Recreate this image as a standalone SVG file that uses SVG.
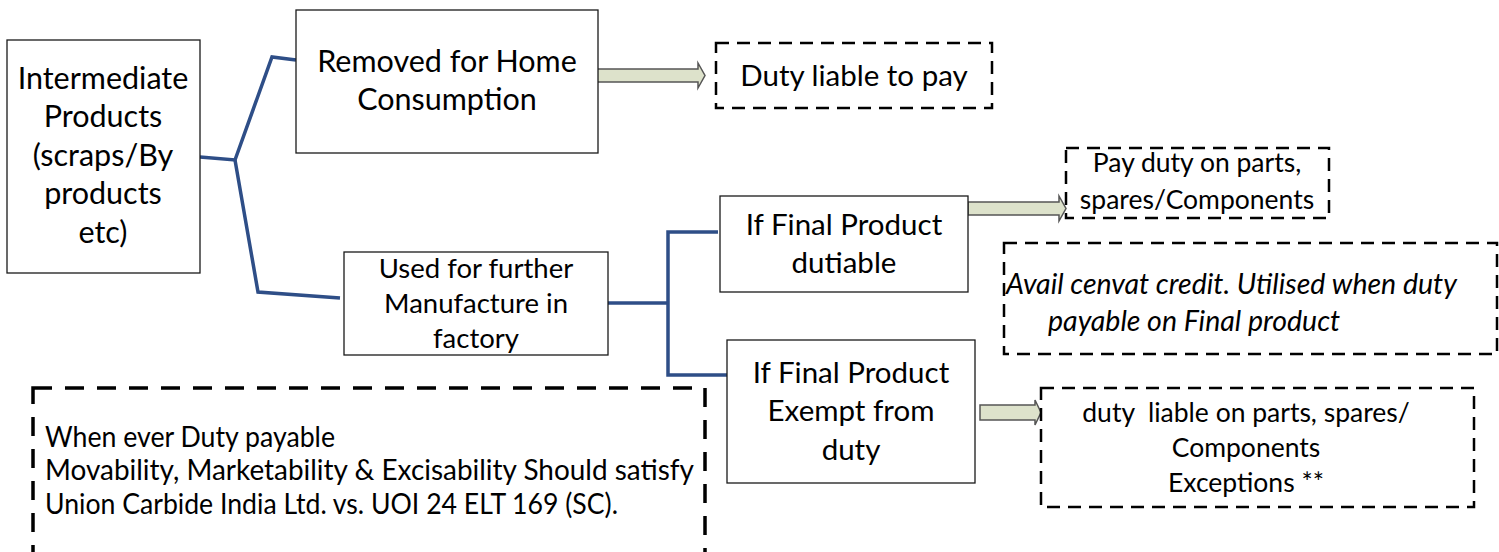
<svg xmlns="http://www.w3.org/2000/svg" width="1499" height="552" viewBox="0 0 1499 552">
<style>
.box{fill:#fff;stroke:#1a1a1a;stroke-width:1.3}
.dbox{fill:none;stroke:#000;stroke-width:2.5;stroke-dasharray:13 8}
.dbig{fill:none;stroke:#000;stroke-width:3.5;stroke-dasharray:19 13}
.conn{fill:none;stroke:#2e4e87;stroke-width:3.5;stroke-linejoin:miter}
.arr{fill:#dde2cb;stroke:#555;stroke-width:1.5}
text{font-family:Lato,"Liberation Sans",sans-serif;fill:#000;text-anchor:middle;white-space:pre}
.t30{font-size:30.5px}
.t29{font-size:29.5px}
.t27{font-size:27.5px}
.t26{font-size:26.5px}
.it{font-style:italic;font-size:28.5px;text-anchor:start}
.bl{font-size:28px;text-anchor:start}
</style>
<rect width="1499" height="552" fill="#fff"/>
<g id="connectors">
<polyline class="conn" points="200,157 235,160 272,57 296,60"/>
<polyline class="conn" points="235,160 258,292 340,298"/>
<polyline class="conn" points="608,303 668,303"/>
<polyline class="conn" points="718,232 668,232 668,375 727,375"/>
<polygon class="arr" points="597,69 698,69 698,63 705,75.5 698,88 698,82 597,82"/>
<polygon class="arr" points="968,202 1059,202 1059,196 1066,208.5 1059,221 1059,215 968,215"/>
<polygon class="arr" points="980,405 1035,405 1035,400 1041,412.5 1035,425 1035,420 980,420"/>
</g>
<g id="n-intermediate">
<rect class="box" x="7" y="40" width="193" height="233"/>
<text class="t30" x="103" y="89">Intermediate</text>
<text class="t30" x="103" y="127">Products</text>
<text class="t30" x="103" y="166">(scraps/By</text>
<text class="t30" x="103" y="204">products</text>
<text class="t30" x="103" y="243">etc)</text>
</g>
<g id="n-removed">
<rect class="box" x="296" y="10" width="302" height="143"/>
<text class="t30" x="447" y="72">Removed for Home</text>
<text class="t30" x="447" y="110">Consumption</text>
</g>
<g id="n-used">
<rect class="box" x="344" y="252" width="264" height="103"/>
<text class="t27" x="476" y="278">Used for further</text>
<text class="t27" x="476" y="313">Manufacture in</text>
<text class="t27" x="476" y="348">factory</text>
</g>
<g id="n-dutiable">
<rect class="box" x="720" y="196" width="248" height="96"/>
<text class="t29" x="844" y="235">If Final Product</text>
<text class="t29" x="844" y="273">dutiable</text>
</g>
<g id="n-exempt">
<rect class="box" x="727" y="340" width="248" height="143"/>
<text class="t29" x="851" y="383">If Final Product</text>
<text class="t29" x="851" y="421">Exempt from</text>
<text class="t29" x="851" y="460">duty</text>
</g>
<g id="n-dutypay">
<rect class="dbox" x="716" y="43" width="276" height="65"/>
<text class="t29" x="854" y="86">Duty liable to pay</text>
</g>
<g id="n-payduty">
<rect class="dbox" x="1066" y="148" width="263" height="70"/>
<text class="t26" x="1197" y="172">Pay duty on parts,</text>
<text class="t26" x="1197" y="209">spares/Components</text>
</g>
<g id="n-cenvat">
<rect class="dbox" x="1004" y="243" width="493" height="111"/>
<text class="it" x="1006" y="294">Avail cenvat credit. Utilised when duty</text>
<text class="it" x="1048" y="331">payable on Final product</text>
</g>
<g id="n-exceptions">
<rect class="dbox" x="1041" y="388" width="433" height="119"/>
<text class="t26" x="1246" y="422">duty  liable on parts, spares/</text>
<text class="t26" x="1246" y="457">Components</text>
<text class="t26" x="1246" y="492">Exceptions **</text>
</g>
<g id="n-note">
<rect class="dbig" x="33" y="388" width="672" height="200"/>
<text class="bl" x="45" y="447" textLength="290" lengthAdjust="spacingAndGlyphs">When ever Duty payable</text>
<text class="bl" x="45" y="480" textLength="649" lengthAdjust="spacingAndGlyphs">Movability, Marketability &amp; Excisability Should satisfy</text>
<text class="bl" x="45" y="514" textLength="573" lengthAdjust="spacingAndGlyphs">Union Carbide India Ltd. vs. UOI 24 ELT 169 (SC).</text>
</g>
</svg>
